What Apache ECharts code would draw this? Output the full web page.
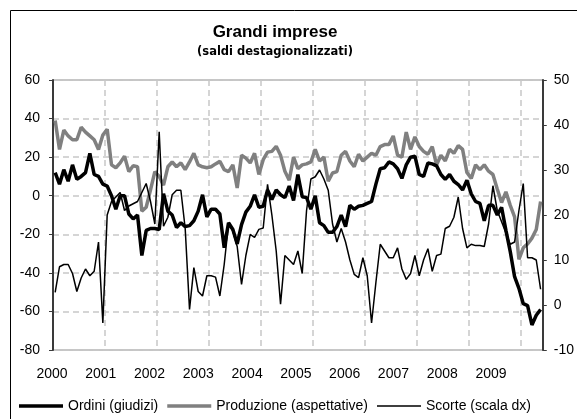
<!DOCTYPE html>
<html>
<head>
<meta charset="utf-8">
<script src="https://cdn.jsdelivr.net/npm/echarts@6/dist/echarts.min.js"></script>
<style>
  html, body { margin: 0; padding: 0; background: #fff; }
  #chart { width: 577px; height: 419px; }
</style>
</head>
<body>
<div id="chart"></div>
<script>
// anni sull'asse (gennaio 2000 - maggio 2009, dati mensili)
var years = ['2000', '2001', '2002', '2003', '2004', '2005', '2006', '2007', '2008', '2009']
var monthsInLastYear = 5

// Ordini (giudizi), scala sx
var ordini = [
  12, 6, 13.5, 7.5, 16, 8.5, 10, 12, 22, 11, 10, 6,
  5, 0, -7, 0, 0, -9.5, -12, -10, -31, -18, -17, -17,
  -17.5, 1, -8, -10, -16.5, -14, -16, -15.5, -13, -8, 0.5, -11,
  -7, -7, -9.5, -27, -14, -17.5, -25, -15, -8.5, -5.5, 0.5, -6,
  -5.5, 3, -2, 3, 0.5, -1, 5, -2.5, 11, -0.5, -1, -7,
  0, -14, -15.5, -19, -19, -16, -10, -16, -5, -7, -5.5, -5,
  -4, -3, 6, 14, 14.5, 17.5, 16.5, 14, 9, 16, 20, 20.5,
  11, 10, 17, 16.5, 15.5, 11, 8.5, 11, 7.5, 5.8, 3, 8,
  1, -3, -4, -13, -5, -5, -10, -6, -18, -29, -42, -48,
  -56, -57, -67, -62, -59
]

// Produzione (aspettative), scala sx
var produzione = [
  39, 24, 34, 31, 29, 29, 35.5, 33, 31, 29, 24, 31.5,
  34.5, 16, 14.5, 17, 20.5, 12.5, 15.5, 15, -8, -6, 3, 12.5,
  10, 5.5, 15, 17.5, 15, 17, 13.5, 17.5, 22, 16, 15, 14.5,
  15, 16.5, 17.8, 13.5, 12.5, 16, 4, 21, 19.5, 17, 22, 11,
  18.7, 22.6, 23, 25.6, 21, 12.7, 8, 20, 14, 16, 16.5, 17.5,
  24, 18, 20, 7.5, 11.8, 12.5, 21, 23, 18, 15, 21.5, 18,
  20, 22, 21, 25.5, 26.5, 26.5, 31, 21, 20, 33, 24, 30.5,
  25.5, 23, 21.5, 25.5, 16, 21, 18, 24, 22, 26, 24, 12,
  9, 16, 13.5, 16, 12.7, 11, 3.5, -3.5, 2, -5, -11, -33,
  -27, -25, -22, -17.5, -3
]

// Scorte (scala dx)
var scorte = [
  2.8, 8.5, 9, 9, 7, 3, 6, 8, 6.5, 7.5, 14, -4,
  20, 23, 24, 25, 21, 22, 22.5, 23, 25, 27, 23, 18,
  38.5, 17.5, 19.5, 24.5, 25.5, 25.5, 17, -1, 8.3, 3, 2, 6.5,
  6.5, 6.2, 2, 9, 18, 16.4, 13, 4.6, 11, 15.7, 15, 16.8,
  17.1, 26.8, 20, 12, 0.2, 11, 10, 9, 12, 7, 21, 28,
  28.5, 30, 28, 25.5, 18, 14, 17, 14, 10, 6.8, 6.1, 10.5,
  6.5, -4, 5, 13.5, 12, 10.5, 10.5, 12.7, 8, 5.7, 7, 11,
  6.5, 10, 12.5, 7.5, 11, 11.3, 17, 17.5, 19.5, 24, 17, 12.7,
  13.5, 13.2, 13.2, 13, 18, 26.5, 21, 18.5, 16, 13.5, 14, 21,
  27, 10.5, 10.5, 10, 3.5
]

var months = []
years.forEach(function(y, k) {
  var n = k === years.length - 1 ? monthsInLastYear : 12
  for (var m = 1; m <= n; m++) {
    months.push(y + '-' + (m < 10 ? '0' + m : m))
  }
})

// icone della legenda: segmento orizzontale centrato in un box 44x14
function legendLine(h) {
  var y0 = (14 - h) / 2
  return 'path://M0,0h0.01v0.01h-0.01z' +
    'M0,' + y0 + 'h44v' + h + 'h-44z' +
    'M0,13.99h0.01v0.01h-0.01z'
}

var font = 'Liberation Sans, Arial, sans-serif'
var gridDash = { color: '#c8c8c8', type: [6, 4], width: 1.5 }
var chart = echarts.init(document.getElementById('chart'))
chart.setOption({
  animation: false,
  backgroundColor: '#fff',
  textStyle: { fontFamily: font },
  title: {
    text: 'Grandi imprese',
    subtext: '(saldi destagionalizzati)',
    left: 270,
    textAlign: 'center',
    top: 19,
    itemGap: 5,
    textStyle: { fontSize: 17, fontWeight: 'bold', color: '#000', fontFamily: font },
    subtextStyle: { fontSize: 11.5, fontWeight: 'bold', color: '#000', fontFamily: 'DejaVu Sans, sans-serif' }
  },
  graphic: [{
    type: 'rect',
    shape: { x: 10.5, y: 10.5, width: 700, height: 500 },
    style: { fill: 'none', stroke: '#000', lineWidth: 1 },
    silent: true
  }],
  legend: {
    left: 14,
    top: 394,
    itemWidth: 44,
    itemHeight: 14,
    itemGap: 9,
    textStyle: { fontSize: 14, color: '#000', fontFamily: font },
    data: [
      { name: 'Ordini (giudizi)', icon: legendLine(3.5), itemStyle: { color: '#000' } },
      { name: 'Produzione (aspettative)', icon: legendLine(3.5), itemStyle: { color: '#808080' } },
      { name: 'Scorte (scala dx)', icon: legendLine(1.5), itemStyle: { color: '#000' } }
    ]
  },
  grid: [
    { left: 53, right: 28, top: 80, bottom: 69, show: true, borderColor: '#8c8c8c', borderWidth: 1 },
    // fascia solo per le etichette degli anni
    { left: 52, right: 86, top: 349, height: 1 }
  ],
  xAxis: [
    {
      type: 'category',
      gridIndex: 0,
      data: months,
      boundaryGap: true,
      axisLine: { show: false },
      axisTick: { show: false },
      axisLabel: { show: false },
      splitLine: {
        show: true,
        interval: function(i) { return i % 12 === 0 },
        lineStyle: gridDash
      }
    },
    {
      type: 'category',
      gridIndex: 1,
      data: years,
      boundaryGap: false,
      axisLine: { show: false },
      axisTick: { show: false },
      splitLine: { show: false },
      axisLabel: { interval: 0, fontSize: 14, color: '#000', margin: 17 }
    }
  ],
  yAxis: [
    {
      type: 'value',
      gridIndex: 0,
      min: -80,
      max: 60,
      interval: 20,
      axisLine: { show: true, lineStyle: { color: '#3a3a3a', width: 2 } },
      axisTick: { show: true, length: 4, lineStyle: { color: '#3a3a3a' } },
      axisLabel: { fontSize: 14, color: '#000', margin: 13 },
      splitLine: { show: true, lineStyle: gridDash }
    },
    {
      type: 'value',
      gridIndex: 0,
      min: -10,
      max: 50,
      interval: 10,
      position: 'right',
      axisLine: { show: true, lineStyle: { color: '#3a3a3a', width: 2 } },
      axisTick: { show: true, length: 4, lineStyle: { color: '#3a3a3a' } },
      axisLabel: { fontSize: 14, color: '#000', margin: 11 },
      splitLine: { show: false }
    },
    { type: 'value', gridIndex: 1, show: false }
  ],
  series: [
    {
      name: 'Produzione (aspettative)',
      type: 'line',
      yAxisIndex: 0,
      data: produzione,
      symbol: 'none',
      lineStyle: { color: '#808080', width: 3.5 },
      itemStyle: { color: '#808080' },
      z: 2
    },
    {
      name: 'Ordini (giudizi)',
      type: 'line',
      yAxisIndex: 0,
      data: ordini,
      symbol: 'none',
      lineStyle: { color: '#000', width: 3.5 },
      itemStyle: { color: '#000' },
      z: 3
    },
    {
      name: 'Scorte (scala dx)',
      type: 'line',
      yAxisIndex: 1,
      data: scorte,
      symbol: 'none',
      lineStyle: { color: '#000', width: 1.5 },
      itemStyle: { color: '#000' },
      z: 4
    }
  ]
})
</script>
</body>
</html>
